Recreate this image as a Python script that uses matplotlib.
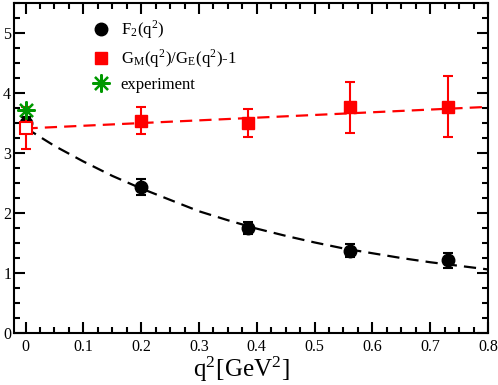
import numpy as np
import matplotlib
matplotlib.use("Agg")
import matplotlib.pyplot as plt
from matplotlib.lines import Line2D
from matplotlib.ticker import MultipleLocator

plt.rcParams["font.family"] = ["Liberation Serif", "DejaVu Serif"]
plt.rcParams["mathtext.fontset"] = "stix"

# F2 lattice points
f2_q2 = [0.0, 0.2, 0.385, 0.562, 0.73]
f2_val = [3.50, 2.43, 1.75, 1.37, 1.21]
f2_err = [0.10, 0.13, 0.10, 0.11, 0.13]

# GM/GE - 1 points (first one drawn hollow)
r_q2 = [0.0, 0.2, 0.385, 0.562, 0.73]
r_val = [3.42, 3.54, 3.50, 3.76, 3.77]
r_err = [0.35, 0.23, 0.24, 0.42, 0.51]

# experiment
exp_q2 = [0.0]
exp_val = [3.71]

# fit curve for F2
fit_q2 = [0.0, 0.05, 0.1, 0.15, 0.2, 0.25, 0.3, 0.35, 0.4, 0.45,
          0.5, 0.55, 0.6, 0.65, 0.7, 0.75, 0.8]
fit_f2 = [3.42, 3.12, 2.86, 2.62, 2.41, 2.22, 2.03, 1.88, 1.74, 1.62,
          1.51, 1.41, 1.33, 1.25, 1.18, 1.12, 1.06]

# linear fit for ratio
lin_q2 = [0.0, 0.8]
lin_val = [3.41, 3.77]

fig = plt.figure(figsize=(4.98, 3.85), dpi=100)
ax = fig.add_axes([0.028, 0.135, 0.952, 0.857])

ax.plot(fit_q2, fit_f2, color="black", lw=1.6, dashes=(5.5, 3.2), zorder=2)
ax.plot(lin_q2, lin_val, color="red", lw=1.6, dashes=(5.5, 3.2), zorder=2)

ax.errorbar(f2_q2, f2_val, yerr=f2_err, fmt="o", color="black", ms=9,
            elinewidth=1.5, capsize=3.6, capthick=1.5, zorder=3)
ax.errorbar(r_q2[1:], r_val[1:], yerr=r_err[1:], fmt="s", color="red", ms=8.5,
            elinewidth=1.5, capsize=3.6, capthick=1.5, zorder=4)
ax.errorbar(r_q2[:1], r_val[:1], yerr=r_err[:1], fmt="s", color="red", ms=8.5,
            mfc="white", mew=1.5, elinewidth=1.5, capsize=3.6, capthick=1.5, zorder=4)
ax.plot(exp_q2, exp_val, marker=(8, 2, 0), color="#009900", ms=13, mew=1.6,
        ls="none", zorder=5)

ax.set_xlim(-0.02, 0.8)
ax.set_ylim(0, 5.5)
ax.xaxis.set_major_locator(MultipleLocator(0.1))
ax.xaxis.set_minor_locator(MultipleLocator(0.025))
ax.yaxis.set_major_locator(MultipleLocator(1))
ax.yaxis.set_minor_locator(MultipleLocator(0.25))
ax.xaxis.set_major_formatter(plt.FuncFormatter(lambda v, p: "0" if abs(v) < 1e-9 else f"{v:.1f}"))
ax.tick_params(which="both", direction="in", top=True, right=True, width=1.5,
               labelsize=11.5)
ax.tick_params(which="major", length=8)
ax.tick_params(which="minor", length=4.5)
ax.tick_params(axis="y", pad=2)
ax.tick_params(axis="x", pad=4)
for s in ax.spines.values():
    s.set_linewidth(1.5)

ax.set_xlabel(r"q$^\mathregular{2}$[GeV$^\mathregular{2}$]", fontsize=18, labelpad=0)
ax.xaxis.set_label_coords(0.48, -0.065, transform=ax.transAxes)
ax.xaxis.label.set_va("top")

handles = [
    Line2D([], [], marker="o", color="black", ls="none", ms=9),
    Line2D([], [], marker="s", color="red", ls="none", ms=8),
    Line2D([], [], marker=(8, 2, 0), color="#009900", ls="none", ms=13, mew=1.6),
]
labels = [r"F$_\mathregular{2}$(q$^\mathregular{2}$)",
          r"G$_\mathregular{M}$(q$^\mathregular{2}$)/G$_\mathregular{E}$(q$^\mathregular{2}$)-1",
          "experiment"]
ax.legend(handles, labels, loc="upper left", bbox_to_anchor=(0.13, 1.0),
          frameon=False, fontsize=12, handletextpad=0.6, labelspacing=0.4,
          handlelength=1.2)

fig.savefig("out.png", dpi=100)
